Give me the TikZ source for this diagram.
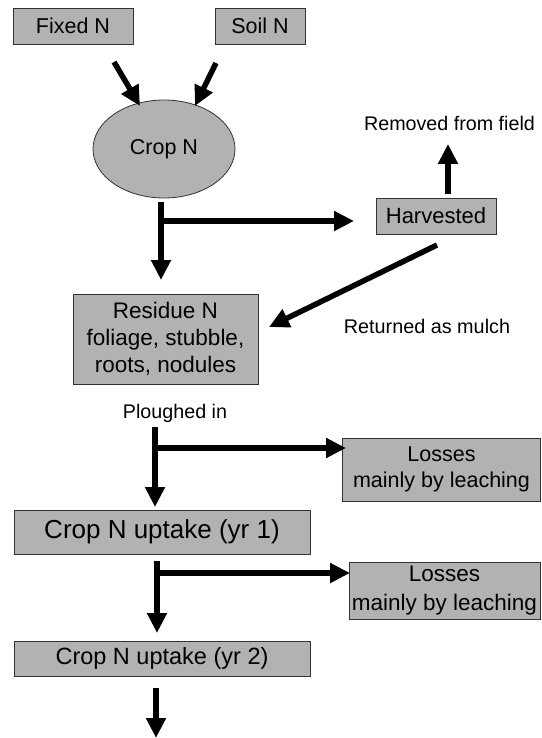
\documentclass[tikz,border=0pt]{standalone}
\usepackage{fontspec}
\setmainfont{Liberation Sans}
\usetikzlibrary{arrows.meta,shapes.geometric}
\begin{document}
\begin{tikzpicture}[x=1pt,y=-1pt,
  box/.style={draw=black!80,line width=0.9pt,fill=black!30,rectangle,inner sep=0pt,align=center},
  oval/.style={draw=black!80,line width=0.8pt,fill=black!30,ellipse,inner sep=0pt},
  lbl/.style={inner sep=0pt,align=center},
  arr/.style={line width=5.5pt,-{Triangle[length=20pt,width=19pt]}}]
\useasboundingbox (0,0) rectangle (541,738);
\fill[white] (0,0) rectangle (541,738);
% nodes
\node[box,minimum width=120pt,minimum height=36pt,font=\fontsize{21.5}{25}\selectfont] (fixed) at (73,26) {Fixed N};
\node[box,minimum width=90pt,minimum height=36pt,font=\fontsize{21.5}{25}\selectfont] (soil) at (260,26) {Soil N};
\node[oval,minimum width=142pt,minimum height=98pt,font=\fontsize{21.5}{25}\selectfont] (crop) at (164,149) {Crop N};
\node[box,minimum width=120pt,minimum height=36pt,font=\fontsize{22}{25}\selectfont] (harv) at (436,216) {Harvested};
\node[lbl,font=\fontsize{19.7}{24}\selectfont] (removed) at (449.5,123) {Removed from field};
\node[box,minimum width=185pt,minimum height=90pt,font=\fontsize{22.5}{27}\selectfont] (res) at (165.5,339) {Residue N\\foliage, stubble,\\roots, nodules};
\node[lbl,font=\fontsize{19.8}{24}\selectfont] (mulch) at (427,326) {Returned as mulch};
\node[lbl,font=\fontsize{19.7}{24}\selectfont] (plough) at (175,413) {Ploughed in};
\node[box,minimum width=198pt,minimum height=63pt,font=\fontsize{21.5}{26}\selectfont] (loss1) at (441.5,469.5) {Losses\\mainly by leaching};
\node[box,minimum width=191pt,minimum height=55pt,font=\fontsize{22.5}{28}\selectfont] (loss2) at (444.5,590.5) {\raisebox{-7pt}{\begin{tabular}{@{}c@{}}Losses\\[1pt]mainly by leaching\end{tabular}}};
\node[box,minimum width=296pt,minimum height=44pt,font=\fontsize{26}{30}\selectfont] (up1) at (162,532) {Crop N uptake (yr 1)};
\node[box,minimum width=296pt,minimum height=35pt,font=\fontsize{23.5}{27}\selectfont] (up2) at (162,658.5) {Crop N uptake (yr 2)};
% connector end points
\coordinate (f0) at (114,62);  \coordinate (f1) at (140,106);
\coordinate (s0) at (216,63);  \coordinate (s1) at (195,106);
\coordinate (c0) at (161,202); \coordinate (c1) at (161,280);
\coordinate (cb) at (161,221); \coordinate (c2) at (354,221);
\coordinate (h0) at (448,194); \coordinate (h1) at (448,144);
\coordinate (m0) at (437,245); \coordinate (m1) at (269,327);
\coordinate (p0) at (155,427); \coordinate (p1) at (155,507);
\coordinate (pb) at (155,448); \coordinate (p2) at (346,448);
\coordinate (u0) at (157,561); \coordinate (u1) at (157,633);
\coordinate (ub) at (157,573); \coordinate (u2) at (350,573);
\coordinate (v0) at (156,688); \coordinate (v1) at (156,738);
% connectors
\draw[arr] (f0) -- (f1);
\draw[arr] (s0) -- (s1);
\draw[arr] (c0) -- (c1);
\draw[arr] (cb) -- (c2);
\draw[arr] (h0) -- (h1);
\draw[arr] (m0) -- (m1);
\draw[arr] (p0) -- (p1);
\draw[arr] (pb) -- (p2);
\draw[arr] (u0) -- (u1);
\draw[arr] (ub) -- (u2);
\draw[arr] (v0) -- (v1);
\end{tikzpicture}
\end{document}
